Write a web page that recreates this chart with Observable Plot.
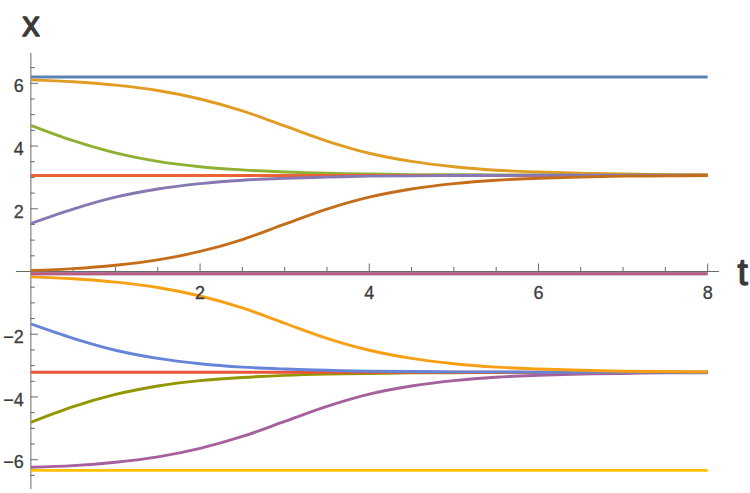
<!DOCTYPE html>
<html><head><meta charset="utf-8">
<script src="https://cdn.jsdelivr.net/npm/d3@7"></script>
<script src="https://cdn.jsdelivr.net/npm/@observablehq/plot@0.6"></script>
<style>body{margin:0;background:#fff;}</style>
</head><body><div id="chart"></div>
<script>
// time samples
const tValues = [0,0.5,1,1.5,2,2.5,3,3.5,4,4.5,5,5.5,6,6.5,7,7.5,8];

// curves
const orangeUpper = [6.11,6.05,5.94,5.77,5.50,5.12,4.64,4.16,3.77,3.51,3.34,3.23,3.17,3.13,3.11,3.09,3.09];
const greenUpper  = [4.66,4.17,3.78,3.51,3.34,3.24,3.17,3.13,3.11,3.09,3.09,3.08,3.08,3.07,3.07,3.07,3.07];
const purpleUpper = [1.53,1.99,2.37,2.63,2.80,2.91,2.97,3.01,3.04,3.05,3.06,3.06,3.07,3.07,3.07,3.07,3.07];
const brownUpper  = [0.03,0.09,0.20,0.37,0.64,1.02,1.51,1.99,2.37,2.63,2.80,2.91,2.97,3.01,3.04,3.05,3.06];
const orangeLower = [-0.17,-0.23,-0.34,-0.51,-0.78,-1.16,-1.65,-2.13,-2.51,-2.77,-2.94,-3.05,-3.11,-3.15,-3.18,-3.19,-3.20];
const blueLower   = [-1.67,-2.13,-2.51,-2.77,-2.94,-3.05,-3.11,-3.15,-3.18,-3.19,-3.20,-3.20,-3.21,-3.21,-3.21,-3.21,-3.21];
const oliveLower  = [-4.81,-4.31,-3.92,-3.65,-3.48,-3.38,-3.31,-3.27,-3.25,-3.23,-3.23,-3.22,-3.22,-3.21,-3.21,-3.21,-3.21];
const purpleLower = [-6.24,-6.19,-6.08,-5.91,-5.64,-5.26,-4.78,-4.30,-3.91,-3.65,-3.48,-3.37,-3.31,-3.27,-3.25,-3.23,-3.23];

// constant (equilibrium) solutions
const levelTop = 6.20, levelUpperMid = 3.06, levelZero = -0.07, levelLowerMid = -3.21, levelBottom = -6.34;

// axis ticks
const xMajorTicks = [2,4,6,8];
const xMinorTicks = [0.5,1,1.5,2.5,3,3.5,4.5,5,5.5,6.5,7,7.5];
const yMajorTicks = [-6,-4,-2,2,4,6];
const yMinorTicks = [-6.5,-5.5,-5,-4.5,-3.5,-3,-2.5,-1.5,-1,-0.5,0.5,1,1.5,2.5,3,3.5,4.5,5,5.5,6.5];
const xTickLabels = ["2","4","6","8"];
const yTickLabels = ["\u22126","\u22124","\u22122","2","4","6"];

const flat = v => tValues.map(t => ({t, x: v}));
const curve = arr => tValues.map((t,i) => ({t, x: arr[i]}));

// draw order as in the original
const series = [
  {data: flat(levelTop), color: "#5E81B5"},
  {data: curve(orangeUpper), color: "#E19C24"},
  {data: curve(greenUpper), color: "#8FB032"},
  {data: flat(levelUpperMid), color: "#EB6235"},
  {data: curve(purpleUpper), color: "#8778B3"},
  {data: curve(brownUpper), color: "#C56E1A"},
  {data: flat(levelZero), color: "#5D9EC7"},
  {data: flat(levelBottom), color: "#FFBF00"},
  {data: curve(purpleLower), color: "#A5609D"},
  {data: curve(oliveLower), color: "#929600"},
  {data: flat(levelLowerMid), color: "#E95536"},
  {data: curve(blueLower), color: "#6685D9"},
  {data: curve(orangeLower), color: "#F89F13"},
  {data: flat(levelZero), color: "#BC5B80"}
];

const xDom = [-0.17, 8.14], yDom = [-6.95, 6.95];
const axisColor = "#6a6a6a";
const textColor = "#3c3c3c";

const chart = Plot.plot({
  width: 750, height: 493,
  marginLeft: 16, marginRight: 31, marginTop: 53, marginBottom: 4,
  x: {domain: xDom, axis: null},
  y: {domain: yDom, axis: null},
  style: {fontFamily: "'Liberation Sans', Arial, sans-serif", background: "white", overflow: "visible"},
  marks: [
    Plot.ruleY([0], {x1: xDom[0], x2: xDom[1], stroke: axisColor, strokeWidth: 1}),
    Plot.ruleX([0], {y1: yDom[0], y2: yDom[1], stroke: axisColor, strokeWidth: 1}),
    Plot.ruleX(xMajorTicks, {y1: 0, y2: 0.24, stroke: axisColor}),
    Plot.ruleX(xMinorTicks, {y1: 0, y2: 0.13, stroke: axisColor}),
    Plot.ruleY(yMajorTicks, {x1: 0, x2: 0.09, stroke: axisColor}),
    Plot.ruleY(yMinorTicks, {x1: 0, x2: 0.053, stroke: axisColor}),
    ...series.map(s => Plot.line(s.data, {x: "t", y: "x", stroke: s.color, strokeWidth: 2.9, curve: "catmull-rom", strokeLinecap: "butt"})),
    Plot.text(xMajorTicks, {x: d => d, y: 0, text: (d,i) => xTickLabels[i], dy: 22, fontSize: 18, fill: textColor, stroke: textColor, strokeWidth: 0.3}),
    Plot.text(yMajorTicks, {x: 0, y: d => d, text: (d,i) => yTickLabels[i], dx: -7, dy: 3, textAnchor: "end", fontSize: 18, fill: textColor, stroke: textColor, strokeWidth: 0.3}),
    Plot.text(["x"], {x: 0, y: yDom[1], dy: -29, fontSize: 35, fill: "#3a3a3a", stroke: "#3a3a3a", strokeWidth: 1.3}),
    Plot.text(["t"], {x: xDom[1], y: 0, dx: 18, dy: 2, textAnchor: "start", fontSize: 37, fill: "#3a3a3a", stroke: "#3a3a3a", strokeWidth: 1.3})
  ]
});
document.getElementById("chart").appendChild(chart);
</script>
</body></html>
